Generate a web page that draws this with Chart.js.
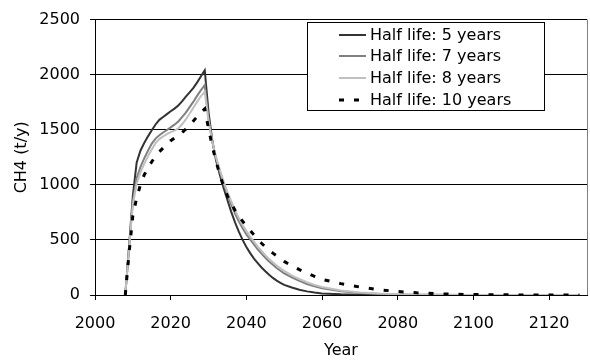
<!DOCTYPE html>
<html>
    <head>
        <title>CH4 half life</title>
        <style>
            body { margin: 0; background: #fff; }
        </style>
    </head>
    <body>
        <canvas id="chart" width="590" height="360"></canvas>

        <script src="https://cdn.jsdelivr.net/npm/chart.js@4/dist/chart.umd.min.js"></script>
        <script>
            // years shared by all four series
            const years = [
                2008, 2009, 2010, 2011, 2012, 2013, 2014, 2015, 2016, 2017,
                2018, 2019, 2020, 2021, 2022, 2023, 2024, 2025, 2026, 2027,
                2028, 2029, 2030, 2031, 2032, 2033, 2034, 2035, 2036, 2037,
                2038, 2039, 2040, 2041, 2042, 2043, 2044, 2045, 2046, 2047,
                2048, 2049, 2050, 2052, 2054, 2056, 2058, 2060, 2065, 2070,
                2075, 2080, 2085, 2090, 2095, 2100, 2110, 2120, 2128,
            ]

            const halfLife5 = [
                0, 440, 900, 1200, 1310, 1380, 1440, 1495, 1548, 1590,
                1616, 1642, 1668, 1692, 1720, 1757, 1800, 1840, 1880, 1930,
                1985, 2040, 1660, 1400, 1220, 1090, 970, 860, 755, 660,
                575, 500, 435, 380, 330, 290, 250, 215, 183, 155,
                130, 110, 92, 68, 48, 33, 22, 14, 6, 3,
                1, 0, 0, 0, 0, 0, 0, 0, 0,
            ]
            const halfLife7 = [
                0, 430, 850, 1060, 1160, 1240, 1310, 1375, 1420, 1450,
                1475, 1498, 1522, 1546, 1575, 1615, 1655, 1705, 1755, 1810,
                1860, 1905, 1600, 1390, 1240, 1120, 1010, 910, 820, 740,
                670, 605, 550, 505, 460, 415, 375, 338, 305, 275,
                245, 220, 197, 160, 128, 100, 78, 60, 33, 18,
                10, 5, 3, 2, 1, 1, 0, 0, 0,
            ]
            const halfLife8 = [
                0, 420, 820, 1010, 1110, 1190, 1260, 1320, 1380, 1415,
                1440, 1460, 1478, 1492, 1512, 1550, 1595, 1645, 1700, 1755,
                1805, 1845, 1580, 1390, 1250, 1135, 1030, 935, 850, 770,
                700, 635, 580, 530, 485, 440, 400, 362, 328, 297,
                268, 242, 218, 178, 145, 116, 92, 72, 40, 23,
                13, 7, 4, 3, 2, 1, 0, 0, 0,
            ]
            const halfLife10 = [
                0, 380, 720, 880, 1000, 1090, 1155, 1210, 1260, 1300,
                1335, 1370, 1400, 1425, 1445, 1475, 1505, 1540, 1580, 1620,
                1660, 1690, 1510, 1350, 1210, 1090, 985, 900, 830, 770,
                715, 670, 625, 585, 545, 505, 470, 437, 408, 380,
                355, 330, 305, 265, 230, 198, 170, 142, 103, 72,
                48, 32, 20, 12, 7, 4, 1, 0, 0,
            ]

            const labels = [
                'Half life: 5 years',
                'Half life: 7 years',
                'Half life: 8 years',
                'Half life: 10 years',
            ]

            // axis ticks
            const yearTicks = [2000, 2020, 2040, 2060, 2080, 2100, 2120]
            const valueTicks = [0, 500, 1000, 1500, 2000, 2500]

            const font = { family: '"DejaVu Sans", sans-serif', size: 16 }
            Chart.defaults.font = font
            Chart.defaults.color = '#000'

            const points = vals => years.map((x, i) => ({ x, y: vals[i] }))

            // boxed legend inside the plot, top right
            const boxLegend = {
                id: 'boxLegend',
                afterDatasetsDraw(chart, args, o) {
                    const ctx = chart.ctx
                    ctx.save()
                    ctx.fillStyle = '#fff'
                    ctx.fillRect(o.x, o.y, o.w, o.h)
                    ctx.strokeStyle = '#000'
                    ctx.lineWidth = 1
                    ctx.strokeRect(o.x + 0.5, o.y + 0.5, o.w, o.h)
                    chart.data.datasets.forEach((ds, i) => {
                        const y = Math.round(o.y + o.firstRow + i * o.rowGap)
                        ctx.beginPath()
                        ctx.strokeStyle = ds.borderColor
                        ctx.lineWidth = ds.borderWidth
                        ctx.setLineDash(ds.borderDash || [])
                        ctx.moveTo(o.x + o.lineStart, y)
                        ctx.lineTo(o.x + o.lineStart + o.lineLen, y)
                        ctx.stroke()
                        ctx.setLineDash([])
                        ctx.fillStyle = '#000'
                        ctx.font = font.size + 'px ' + font.family
                        ctx.textBaseline = 'middle'
                        ctx.fillText(ds.label, o.x + o.textStart, y + 1)
                    })
                    ctx.restore()
                },
            }

            // gray right edge of the plot area
            const plotFrame = {
                id: 'plotFrame',
                beforeDatasetsDraw(chart) {
                    const { ctx, chartArea: a } = chart
                    ctx.save()
                    ctx.strokeStyle = '#808080'
                    ctx.lineWidth = 1
                    ctx.beginPath()
                    ctx.moveTo(Math.round(a.right) + 0.5, a.top)
                    ctx.lineTo(Math.round(a.right) + 0.5, a.bottom)
                    ctx.stroke()
                    ctx.restore()
                },
            }

            const line = (i, vals, color, extra) => ({
                label: labels[i],
                data: points(vals),
                borderColor: color,
                borderWidth: 2,
                pointRadius: 0,
                tension: 0,
                fill: false,
                order: 4 - i,
                ...extra,
            })

            const chart = new Chart('chart', {
                type: 'line',
                data: {
                    datasets: [
                        line(0, halfLife5, '#333333'),
                        line(1, halfLife7, '#808080'),
                        line(2, halfLife8, '#c0c0c0'),
                        line(3, halfLife10, '#000000', {
                            borderDash: [5, 10],
                            borderWidth: 3,
                        }),
                    ],
                },
                options: {
                    responsive: false,
                    animation: false,
                    layout: { padding: { top: 17, right: 3, bottom: 0, left: 0 } },
                    plugins: {
                        legend: { display: false },
                        tooltip: { enabled: false },
                        boxLegend: {
                            x: 307, y: 22, w: 237, h: 88,
                            firstRow: 12.5, rowGap: 21.7,
                            lineStart: 32, lineLen: 27, textStart: 63,
                        },
                    },
                    scales: {
                        x: {
                            type: 'linear',
                            min: 2000,
                            max: 2130,
                            afterBuildTicks: s => {
                                s.ticks = yearTicks.map(value => ({ value }))
                            },
                            afterFit: s => { s.height = 65 },
                            ticks: {
                                padding: 14,
                                maxRotation: 0,
                                autoSkip: false,
                                callback: v => String(v),
                            },
                            grid: { drawOnChartArea: false, tickLength: 5, color: '#000' },
                            border: { color: '#000' },
                            title: { display: true, text: 'Year', padding: 0 },
                        },
                        y: {
                            min: 0,
                            max: 2500,
                            afterBuildTicks: s => {
                                s.ticks = valueTicks.map(value => ({ value }))
                            },
                            afterFit: s => { s.width = 95 },
                            ticks: { padding: 10, callback: v => String(v) },
                            grid: { color: '#000', tickLength: 5 },
                            border: { color: '#000' },
                            title: { display: true, text: 'CH4 (t/y)', padding: { top: 12, bottom: 0 } },
                        },
                    },
                },
                plugins: [plotFrame, boxLegend],
            })
        </script>
    </body>
</html>
